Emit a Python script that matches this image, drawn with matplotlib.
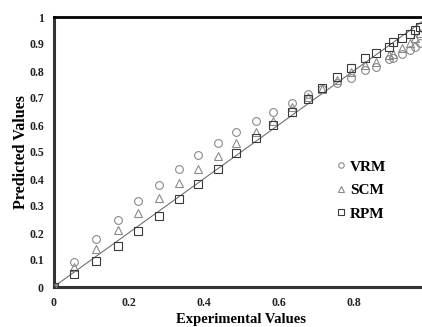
import matplotlib
matplotlib.use("Agg")
import matplotlib.pyplot as plt

x_exp = [0.0, 0.055, 0.113, 0.173, 0.225, 0.28, 0.335, 0.386, 0.439, 0.487, 0.539,
         0.586, 0.636, 0.679, 0.715, 0.757, 0.792, 0.831, 0.861, 0.894, 0.905,
         0.929, 0.951, 0.964, 0.976]
vrm = [0.0, 0.093, 0.177, 0.248, 0.317, 0.379, 0.436, 0.488, 0.534, 0.575, 0.613,
       0.649, 0.683, 0.714, 0.735, 0.754, 0.775, 0.804, 0.816, 0.845, 0.85,
       0.862, 0.878, 0.89, 0.903]
scm = [0.0, 0.074, 0.142, 0.211, 0.273, 0.328, 0.384, 0.436, 0.485, 0.532, 0.575,
       0.616, 0.665, 0.705, 0.735, 0.765, 0.795, 0.822, 0.834, 0.86, 0.862,
       0.886, 0.903, 0.921, 0.94]
rpm = [0.0, 0.048, 0.097, 0.152, 0.207, 0.263, 0.325, 0.383, 0.438, 0.497, 0.552,
       0.601, 0.648, 0.696, 0.738, 0.777, 0.81, 0.847, 0.866, 0.89, 0.909,
       0.923, 0.936, 0.952, 0.964]
x_ticks = [0, 0.2, 0.4, 0.6, 0.8]
x_tick_labels = ["0", "0.2", "0.4", "0.6", "0.8"]
y_ticks = [0, 0.1, 0.2, 0.3, 0.4, 0.5, 0.6, 0.7, 0.8, 0.9, 1]
y_tick_labels = ["0", "0.1", "0.2", "0.3", "0.4", "0.5", "0.6", "0.7", "0.8", "0.9", "1"]

plt.rcParams['font.family'] = ['Liberation Serif', 'DejaVu Serif']

fig = plt.figure(figsize=(4.22, 3.27), dpi=100)
W, H = 422, 327
ax = fig.add_axes([53.5 / W, 40 / H, 375 / W, 270 / H])

ax.plot([0, 1], [0, 1], color='#707070', lw=0.8, zorder=1)
ms = 5.6
ax.plot(x_exp, vrm, 'o', ms=ms, mfc='none', mec='#8a8a8a', mew=0.8, label='VRM', zorder=3)
ax.plot(x_exp, scm, '^', ms=ms, mfc='none', mec='#8a8a8a', mew=0.8, label='SCM', zorder=3)
ax.plot(x_exp, rpm, 's', ms=ms, mfc='none', mec='#3a3a3a', mew=0.8, label='RPM', zorder=3)

ax.set_xlim(0, 1)
ax.set_ylim(0, 1)
ax.set_xticks(x_ticks)
ax.set_xticklabels(x_tick_labels)
ax.set_yticks(y_ticks)
ax.set_yticklabels(y_tick_labels)
ax.tick_params(length=0, labelsize=8.5, pad=7)
ax.tick_params(axis='x', pad=7)
for lab in ax.get_xticklabels() + ax.get_yticklabels():
    lab.set_fontweight('bold')
    lab.set_color('#222222')

for side in ['left', 'bottom']:
    ax.spines[side].set_linewidth(2.2)
    ax.spines[side].set_color('#333333')
ax.spines['top'].set_linewidth(2.0)
ax.spines['top'].set_color('black')
ax.spines['right'].set_visible(False)

ax.set_xlabel('Experimental Values', fontsize=10.5, fontweight='bold', labelpad=3)
ax.set_ylabel('Predicted Values', fontsize=11.5, fontweight='bold', labelpad=0)

leg = ax.legend(loc='upper left', bbox_to_anchor=(0.718, 0.522), frameon=False,
                markerscale=0.7, handlelength=0.6, handletextpad=0.3,
                labelspacing=0.65, prop={'weight': 'bold', 'size': 11})

fig.savefig('out.png', dpi=100)
